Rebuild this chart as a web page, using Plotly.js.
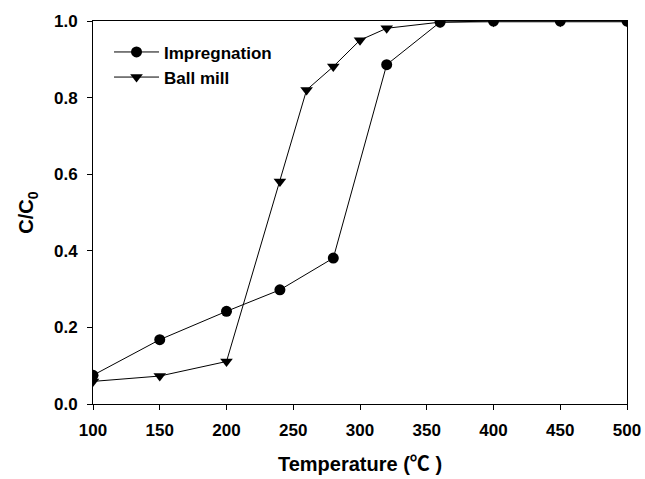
<!DOCTYPE html>
<html>
<head>
<meta charset="utf-8">
<script src="https://cdn.plot.ly/plotly-3.0.1.min.js"></script>
<style>html,body{margin:0;padding:0;background:#fff;}#chart{width:645px;height:479px;}</style>
</head>
<body>
<div id="chart"></div>
<script>
const impTemps = [100, 150, 200, 240, 280, 320, 360, 400, 450, 500];
const impValues = [0.075, 0.168, 0.242, 0.298, 0.381, 0.886, 0.997, 1.0, 1.0, 1.0];
const ballTemps = [100, 150, 200, 240, 260, 280, 300, 320, 360, 400, 450, 500];
const ballValues = [0.059, 0.073, 0.111, 0.581, 0.820, 0.881, 0.950, 0.981, 0.997, 0.998, 0.998, 0.998];
const xTicks = [100, 150, 200, 250, 300, 350, 400, 450, 500];
const yTicks = [0.0, 0.2, 0.4, 0.6, 0.8, 1.0];

const font = {family: 'Liberation Sans, Arial, sans-serif', color: '#000', weight: 'bold'};
const f = s => Object.assign({}, font, {size: s});

const traces = [
  {x: impTemps, y: impValues, name: 'Impregnation', mode: 'lines+markers', type: 'scatter',
   line: {color: '#000', width: 1}, marker: {symbol: 'circle', size: 11, color: '#000'}},
  {x: ballTemps, y: ballValues, name: 'Ball mill', mode: 'lines+markers', type: 'scatter',
   line: {color: '#000', width: 1}, marker: {symbol: 'triangle-down', size: 11, color: '#000'}}
];

const layout = {
  width: 645, height: 479,
  margin: {l: 93, r: 18, t: 21, b: 75},
  paper_bgcolor: '#fff', plot_bgcolor: '#fff',
  font: f(17),
  xaxis: {
    range: [100, 500], tickvals: xTicks, ticktext: xTicks.map(String),
    ticks: 'outside', ticklen: 5, tickwidth: 1, tickcolor: '#000',
    showline: true, linecolor: '#000', linewidth: 1, mirror: true,
    showgrid: false, zeroline: false, ticklabelstandoff: 6,
    tickfont: f(17),
    title: {text: 'Temperature (<span style="font-family:Noto Sans CJK KR">℃</span> )', font: f(20), standoff: 17}
  },
  yaxis: {
    range: [0, 1.0], tickvals: yTicks, ticktext: yTicks.map(v => v.toFixed(1)),
    ticks: 'outside', ticklen: 5, tickwidth: 1, tickcolor: '#000',
    showline: true, linecolor: '#000', linewidth: 1, mirror: true,
    showgrid: false, zeroline: false, ticklabelstandoff: 6,
    tickfont: f(17),
    title: {text: 'C/C<sub>0</sub>', font: f(20), standoff: 14}
  },
  showlegend: true,
  legend: {x: 0.03, y: 0.965, xanchor: 'left', yanchor: 'top', bgcolor: 'rgba(0,0,0,0)',
    font: f(17), tracegroupgap: 0, itemwidth: 45}
};

Plotly.newPlot('chart', traces, layout, {displayModeBar: false, staticPlot: true});
</script>
</body>
</html>
